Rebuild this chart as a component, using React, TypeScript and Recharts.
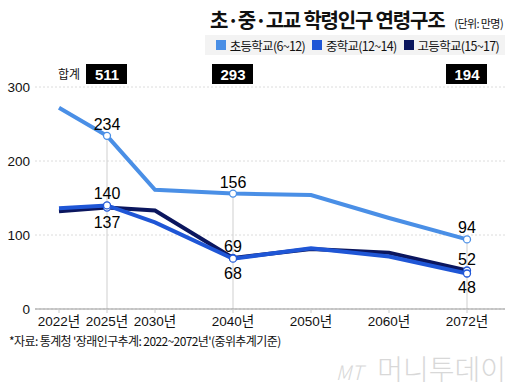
import { CartesianGrid, LabelList, Line, LineChart, ReferenceLine, XAxis, YAxis } from "recharts";

const yearLabels = ["2022년", "2025년", "2030년", "2040년", "2050년", "2060년", "2072년"];
// x slots: the first three years sit closer together than the rest
const axisSlots = [0, 1, 2, 3.625, 5.25, 6.875, 8.5];
const elementary = [272, 234, 161, 156, 154, 123, 94];
const middle = [136, 140, 117, 68, 82, 71, 48];
const high = [132, 137, 133, 69, 81, 76, 52];
const labelled = [1, 3, 6];
const yTicks = [0, 100, 200, 300];

const COLORS = {
  elementary: "#4a8fe6",
  middle: "#1f56d6",
  high: "#0b165e",
};

const NUM_FONT = "'Liberation Sans', 'Noto Sans CJK KR', sans-serif";
const KR_FONT = "'Noto Sans CJK KR', sans-serif";

const data = yearLabels.map((year, i) => ({
  year,
  slot: axisSlots[i],
  elementary: elementary[i],
  middle: middle[i],
  high: high[i],
}));

const totals = labelled.map((i) => elementary[i] + middle[i] + high[i]);

// where each series puts its value label at the labelled years
const placement: Record<string, string[]> = {
  elementary: ["top", "top", "top"],
  middle: ["top", "bottom", "bottom"],
  high: ["bottom", "top", "top"],
};

const makeDot = (color: string) => (props: any) => {
  const { cx, cy, index } = props;
  if (!labelled.includes(index)) return <g key={`d-${index}`} />;
  return <circle key={`d-${index}`} cx={cx} cy={cy} r={3.5} fill="#fff" stroke={color} strokeWidth={1.3} />;
};

const makeLabel = (key: string) => (props: any) => {
  const { x, y, value, index } = props;
  const spot = labelled.indexOf(index);
  if (spot < 0) return null;
  const pos = placement[key][spot];
  return (
    <text x={x} y={pos === "top" ? y - 6 : y + 20} textAnchor="middle" fontFamily={NUM_FONT} fontSize={16} fill="#000">
      {value}
    </text>
  );
};

const TotalTick = (props: any) => {
  const { x, y, payload } = props;
  const spot = labelled.findIndex((i) => axisSlots[i] === payload.value);
  if (spot < 0) return <g />;
  return (
    <g>
      {spot === 0 && (
        <text x={x - 38} y={y - 5} textAnchor="middle" fontFamily={KR_FONT} fontSize={12} fill="#111">
          합계
        </text>
      )}
      <rect x={x - 21} y={y - 20} width={41} height={20} fill="#000" />
      <text x={x} y={y - 4.5} textAnchor="middle" fontFamily={NUM_FONT} fontWeight="bold" fontSize={15} fill="#fff">
        {totals[spot]}
      </text>
    </g>
  );
};

const legendItems = [
  { name: "초등학교(6~12)", color: COLORS.elementary },
  { name: "중학교(12~14)", color: COLORS.middle },
  { name: "고등학교(15~17)", color: COLORS.high },
];

export default function App() {
  return (
    <div style={{ position: "absolute", left: 0, top: 0, width: 520, height: 388, background: "#fff", overflow: "hidden" }}>
      <div
        style={{
          position: "absolute",
          right: 17,
          top: 6,
          fontFamily: KR_FONT,
          color: "#111",
          whiteSpace: "nowrap",
          lineHeight: "28px",
        }}
      >
        <span style={{ fontSize: 20, fontWeight: "bold", letterSpacing: -1.2 }}>초·중·고교 학령인구 연령구조</span>
        <span style={{ fontSize: 11, marginLeft: 10, letterSpacing: -0.6 }}>(단위: 만명)</span>
      </div>
      <div
        style={{
          position: "absolute",
          left: 205,
          top: 35,
          width: 300,
          height: 20,
          background: "#f3f3f3",
          display: "flex",
          alignItems: "center",
          justifyContent: "flex-end",
          paddingRight: 6,
          boxSizing: "border-box",
          fontFamily: KR_FONT,
          fontSize: 12.5,
          letterSpacing: -0.7,
          color: "#111",
        }}
      >
        {legendItems.map((item) => (
          <span key={item.name} style={{ display: "flex", alignItems: "center", marginLeft: 7 }}>
            <span style={{ width: 10, height: 10, background: item.color, marginRight: 4 }} />
            {item.name}
          </span>
        ))}
      </div>

      <LineChart width={520} height={388} data={data} margin={{ top: 62, right: 15, left: 0, bottom: 49 }}>
        <CartesianGrid xAxisId="bottom" vertical={false} stroke="#dcdcdc" strokeDasharray="2 2" />
        <XAxis
          xAxisId="bottom"
          type="number"
          dataKey="slot"
          domain={[0, 8.5]}
          ticks={axisSlots}
          interval={0}
          padding={{ left: 24, right: 38 }}
          tickFormatter={(v: number) => yearLabels[axisSlots.indexOf(v)]}
          height={30}
          axisLine={{ stroke: "#999" }}
          tickLine={{ stroke: "#ccc" }}
          tickSize={4}
          tickMargin={3}
          tick={{ fill: "#111", fontSize: 13.5, fontFamily: NUM_FONT }}
        />
        <XAxis
          xAxisId="top"
          orientation="top"
          type="number"
          dataKey="slot"
          domain={[0, 8.5]}
          ticks={labelled.map((i) => axisSlots[i])}
          interval={0}
          padding={{ left: 24, right: 38 }}
          height={25}
          axisLine={false}
          tickLine={false}
          tickSize={0}
          tickMargin={3}
          tick={<TotalTick />}
        />
        <YAxis
          domain={[0, 300]}
          ticks={yTicks}
          width={35}
          axisLine={false}
          tickLine={false}
          tickSize={0}
          tickMargin={5}
          tick={{ fill: "#111", fontSize: 13.5, fontFamily: NUM_FONT }}
        />
        {labelled.map((i) => (
          <ReferenceLine
            key={`ref-${i}`}
            xAxisId="bottom"
            segment={[
              { x: axisSlots[i], y: 0 },
              { x: axisSlots[i], y: elementary[i] },
            ]}
            stroke="#cfcfcf"
          />
        ))}
        <Line
          xAxisId="bottom"
          dataKey="elementary"
          type="linear"
          stroke={COLORS.elementary}
          strokeWidth={4}
          dot={makeDot(COLORS.elementary)}
          activeDot={false}
          isAnimationActive={false}
        >
          <LabelList dataKey="elementary" content={makeLabel("elementary")} />
        </Line>
        <Line
          xAxisId="bottom"
          dataKey="high"
          type="linear"
          stroke={COLORS.high}
          strokeWidth={4}
          dot={makeDot(COLORS.middle)}
          activeDot={false}
          isAnimationActive={false}
        >
          <LabelList dataKey="high" content={makeLabel("high")} />
        </Line>
        <Line
          xAxisId="bottom"
          dataKey="middle"
          type="linear"
          stroke={COLORS.middle}
          strokeWidth={4}
          dot={makeDot(COLORS.middle)}
          activeDot={false}
          isAnimationActive={false}
        >
          <LabelList dataKey="middle" content={makeLabel("middle")} />
        </Line>
      </LineChart>

      <div
        style={{
          position: "absolute",
          left: 9,
          top: 333,
          fontFamily: KR_FONT,
          fontSize: 12,
          letterSpacing: -0.6,
          color: "#111",
          whiteSpace: "nowrap",
          lineHeight: "16px",
        }}
      >
        *자료: 통계청 '장래인구추계: 2022~2072년'(중위추계기준)
      </div>
      <div
        style={{
          position: "absolute",
          right: 14,
          top: 352,
          fontFamily: KR_FONT,
          fontSize: 28,
          fontWeight: 300,
          color: "#d8d8d8",
          whiteSpace: "nowrap",
          lineHeight: "32px",
        }}
      >
        <span style={{ fontStyle: "italic", fontSize: 20, marginRight: 14 }}>MT</span>머니투데이
      </div>
    </div>
  );
}
